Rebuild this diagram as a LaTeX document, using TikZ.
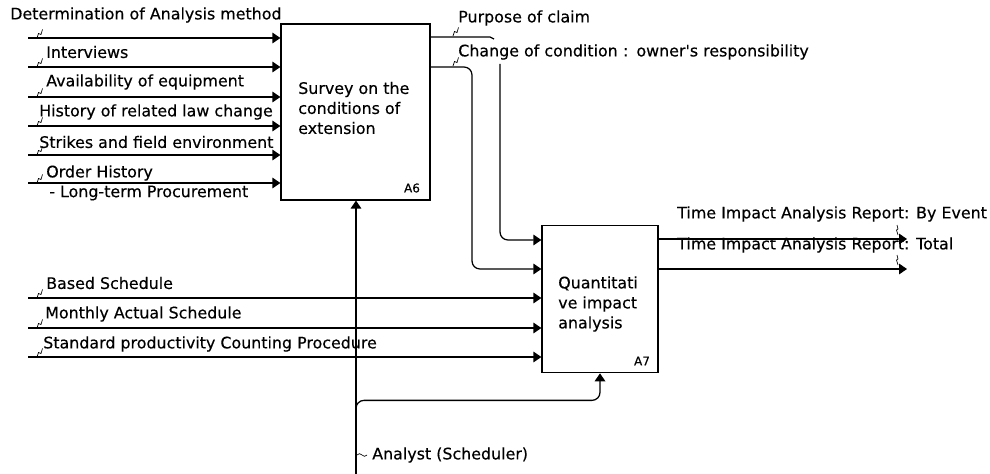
\documentclass[tikz,border=0pt]{standalone}
\usepackage{fontspec}
\setmainfont{DejaVu Sans}[FakeBold=0.35]
\usepackage{tikz}
\usetikzlibrary{positioning,calc,arrows.meta}

\tikzset{
  flow/.style={line width=0.95pt, -{Triangle[length=6pt,width=8pt]}},
  plain/.style={line width=0.95pt},
  lbl/.style={anchor=west, inner sep=0pt, font=\fontsize{11.9}{14}\selectfont},
  boxtxt/.style={anchor=west, inner sep=0pt, align=left, font=\fontsize{11.9}{15}\selectfont},
  tagtxt/.style={inner sep=0pt, font=\fontsize{9}{10}\selectfont},
  actbox/.style={draw, line width=0.95pt, inner sep=0pt},
  sqg/.style={line width=0.5pt},
}
\newcommand{\squig}[1]{\draw[sqg] (#1) -- ++(1.5,-4.5) -- ++(2.5,1) -- ++(1.5,-5);}

\begin{document}
\begin{tikzpicture}[x=0.75pt, y=-0.75pt]
  \useasboundingbox (0,0) rectangle (990,474);

  % Activity boxes
  \node[actbox, minimum width=111.75pt, minimum height=132pt] (A6) at (355.5,112) {};
  \node[actbox, minimum width=87pt, minimum height=110.6pt] (A7) at (600,299) {};
  \node[boxtxt] (A6txt) at (298,108) {Survey on the\\conditions of\\extension};
  \node[boxtxt] (A7txt) at (558,304) {Quantitati\\ve impact\\analysis};
  \node[tagtxt] (A6tag) at (412,188) {A6};
  \node[tagtxt] (A7tag) at (642,361) {A7};

  % Inputs to A6
  \foreach \i/\y in {1/38,2/67,3/97,4/126,5/155,6/183} {
    \coordinate (a6in\i) at (28,\y);
    \draw[flow] (a6in\i) -- (a6in\i -| A6.west);
    \squig{37,\y}
  }
  \node[lbl] (det) at (10,15) {Determination of Analysis method};
  \node[lbl] (intv) at (46,52) {Interviews};
  \node[lbl] (avail) at (46,82) {Availability of equipment};
  \node[lbl] (law) at (39,112) {History of related law change};
  \node[lbl] (strk) at (39,142) {Strikes and field environment};
  \node[lbl] (ordr) at (46,173) {Order History};
  \node[lbl] (ordr2) at (49,193) {- Long-term Procurement};

  % Outputs of A6 into A7
  \coordinate (pcend) at (490,37);
  \coordinate (pctop) at (500,64);
  \coordinate (ccx) at (472,150);
  \coordinate (a7y1) at (0,240);
  \coordinate (a7y2) at (0,269);
  \draw[plain] (A6.east |- pcend) -- (pcend) to[out=0,in=180] ++(4,2);
  \draw[flow, rounded corners=6pt] (pctop) |- (A7.west |- a7y1);
  \draw[flow, rounded corners=6pt] (A6.east |- a6in2) -| (ccx) |- (A7.west |- a7y2);
  \squig{453,36}
  \squig{453,66}
  \node[lbl] (purp) at (458,18) {Purpose of claim};
  \node[lbl] (chg) at (458,52) {Change of condition\hspace{4pt}:\hspace{6pt}owner\textquotesingle s responsibility};

  % Inputs to A7
  \foreach \i/\y in {3/298,4/328,5/357} {
    \coordinate (a7in\i) at (28,\y);
    \draw[flow] (a7in\i) -- (a7in\i -| A7.west);
    \squig{37,\y}
  }
  \node[lbl] (base) at (46,283) {Based Schedule};
  \node[lbl] (mnth) at (45,314) {Monthly Actual Schedule};
  \node[lbl] (stdp) at (43,344) {Standard productivity Counting Procedure};

  % Outputs of A7
  \foreach \i/\y in {1/239,2/269} {
    \coordinate (a7out\i) at (907,\y);
    \draw[flow] (A7.east |- a7out\i) -- (a7out\i);
    \draw[sqg] (897,\y-14) -- ++(1,4) -- ++(-1.5,1) -- ++(1.5,5);
  }
  \node[lbl] (rpt1) at (677,214) {Time Impact Analysis Report: By Event};
  \node[lbl] (rpt2) at (677,245) {Time Impact Analysis Report: Total};

  % Mechanism
  \coordinate (mech) at (356,474);
  \coordinate (mbr) at (356,412);
  \draw[flow] (mech) -- (mech |- A6.south);
  \draw[flow, rounded corners=6pt] (mbr) |- ($(A7.south)+(0,27)$) -- (A7.south);
  \draw[sqg] (357,455) to[out=60,in=120] (362,455) to[out=-60,in=-120] (367,455);
  \node[lbl] (anl) at (372,455) {Analyst (Scheduler)};
\end{tikzpicture}
\end{document}
